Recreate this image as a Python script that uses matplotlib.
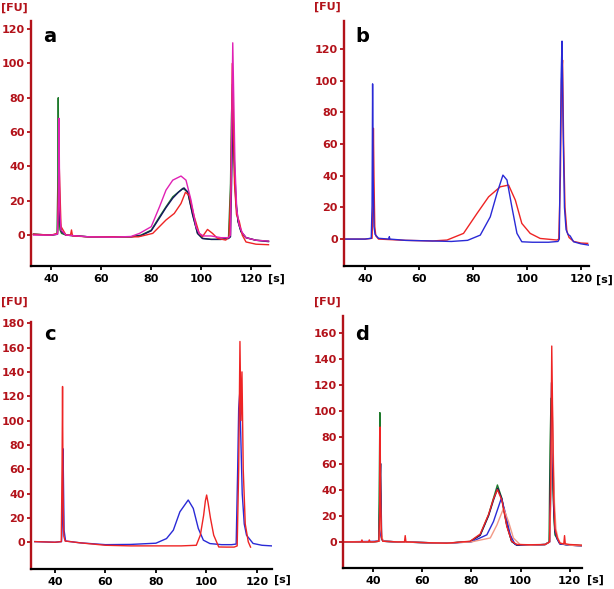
import matplotlib
matplotlib.use("Agg")
import matplotlib.pyplot as plt

# ---------------------------------------------------
# panel a: four runs (time in s, fluorescence in FU)
a_green_x = [33, 40, 42.4, 42.7, 42.9, 43.1, 43.3, 43.6, 44.2, 46, 55, 65, 72, 76, 80.1, 83.4, 86.0, 88.7, 92.7, 94.7,
             96.6, 98.6, 100.6, 104, 108, 111.0, 111.8, 112.2, 112.6, 113.0, 113.4, 114.0, 114.8, 116, 118, 122, 127]
a_green_y = [0.5, 0, 0.5, 28, 80, 30, 8, 3, 1, 0, -1, -1, -1, 0, 2.9, 10.7, 16.5, 22.3, 27.2, 25.2,
             12.6, 1, -1.9, -2.5, -2.5, -1.5, 30, 70, 88, 60, 35, 18, 8, 2, -1.5, -3, -3.5]
a_navy_x = [33, 40, 42.6, 43.0, 43.3, 43.6, 44.2, 46, 55, 65, 72, 76, 80.1, 83.4, 86.0, 88.7, 91.0, 93.2, 94.7, 96.6,
            98.6, 100.6, 104, 108, 111.0, 111.8, 112.3, 112.8, 113.3, 114.0, 114.8, 116, 118, 122, 127]
a_navy_y = [0.5, 0, 0.5, 10, 30, 8, 2, 0, -1, -1, -1, -0.3, 2.5, 10, 16, 21.5, 25, 27.5, 25, 12,
            1, -2, -2.5, -2.5, -2, -1, 35, 73, 45, 20, 8, 2, -1.5, -3, -3.8]
a_magenta_x = [33, 40, 42.6, 43.0, 43.2, 43.5, 44.0, 46, 55, 65, 72, 75.4, 80.1, 83.4, 86.0, 88.7, 92.0, 94.0, 96.0, 98.0,
               99.3, 101, 104, 108, 111.0, 111.8, 112.3, 112.7, 113.1, 113.6, 114.3, 115.2, 116.5, 118, 122, 127]
a_magenta_y = [0, 0, 0.5, 20, 68, 15, 3, 0, -1, -1.2, -0.8, 1, 4.9, 16.5, 26.2, 32, 34.4, 32, 20.4, 4.9,
               1, -0.5, -0.5, -1.5, -1.5, 0, 60, 112, 80, 40, 15, 6, 1.5, -1.5, -3, -3.5]
a_red_x = [33, 40, 42.6, 42.9, 43.2, 43.5, 44.0, 46, 47.8, 48.2, 48.6, 55, 65, 75, 80.7, 86.0, 89.3, 92.0, 93.8, 95.3,
           97.3, 99.3, 100.6, 102.6, 104.6, 106.6, 109.9, 111.2, 112.0, 112.5, 112.9, 113.4, 114.2, 115.3, 116.5,
           118, 122, 127]
a_red_y = [0.5, 0, 1, 20, 45, 30, 5, 0, 0, 3, -0.5, -1, -1, -1, 1, 8.8, 12.6, 18.4, 25, 23,
           10.7, 1, -0.9, 3.3, 1, -1.9, -2.9, -1, 30, 100, 70, 30, 12, 8, 0,
           -4, -5.3, -5.6]

# panel b: two runs
b_blue_x = [32.5, 40, 42.3, 42.6, 42.8, 43.0, 43.3, 43.7, 45, 48.8, 49.0, 49.2, 55, 65, 72, 78, 82.7, 86.4, 88.9, 91.1,
            92.6, 94.4, 96.3, 98.1, 102, 108, 111.5, 112.0, 112.4, 112.7, 113.0, 113.4, 113.9, 114.5, 115.2, 116.0,
            117.3, 120, 122.9]
b_blue_y = [0, 0, 0.5, 21, 98, 40, 8, 3, 0.5, 0, 1.5, 0, -0.8, -1.2, -1.5, -0.8, 2.5, 14, 28.9, 40.4,
            37.3, 20.4, 3.6, -1.7, -2, -2, -1.5, 0, 60, 104, 125, 70, 20, 6, 3, 2,
            -1.7, -3, -3.8]
b_red_x = [32.5, 40, 42.6, 42.9, 43.1, 43.3, 43.6, 44.0, 45, 55, 65, 70.4, 76.5, 81.5, 85.8, 90.1, 93.2, 95.7, 98.1,
           101.2, 104.9, 111.1, 111.8, 112.4, 112.8, 113.2, 113.6, 114.1, 114.8, 115.6, 117.3, 120, 122.5]
b_red_y = [0, 0, 0.5, 20, 70, 40, 8, 2, 0, -0.8, -1.2, -0.6, 3.6, 16.2, 26.7, 33, 34.1, 24.6, 9.9,
           3.6, 0.4, -0.6, 0, 40, 100, 113, 60, 20, 5, 1, -1.5, -2.5, -2.7]

# panel c: two runs
c_blue_x = [32, 40, 42.6, 42.9, 43.1, 43.3, 43.6, 44.2, 50, 60, 70, 80, 84.2, 86.9, 89.5, 92.8, 94.8, 96.8, 98.8,
            101.4, 106, 110, 111.8, 112.4, 112.8, 113.2, 113.6, 114.2, 115.0, 115.9, 118.5, 122, 125.8]
c_blue_y = [0.5, 0, 0.5, 15, 77, 60, 10, 1, -0.5, -2, -1.8, -0.8, 3, 9.9, 25, 34.7, 27.8, 11.3, 1.7,
            -1.1, -2, -2, -1.5, 60, 110, 122, 90, 40, 15, 5.8, -1, -2.5, -3]
c_red_x = [32, 40, 42.5, 42.8, 43.0, 43.2, 43.5, 44.0, 50, 60, 70, 80, 90, 96, 97.6, 98.9, 99.6, 100.1, 100.7,
           101.6, 102.9, 104.9, 108, 111, 112.2, 112.8, 113.3, 113.7, 114.1, 114.6, 115.4, 116.6, 117.5]
c_red_y = [0.5, 0, 0.5, 60, 128, 40, 5, 1, -0.5, -2.5, -3, -3, -3, -2.5, 5.8, 22, 34, 38.8, 32,
           20, 5.8, -3.9, -4, -4, -3, 60, 165, 100, 140, 60, 15, 0.3, -4]

# panel d: five runs
d_green_x = [28, 35, 40, 42.3, 42.6, 42.8, 43.0, 43.4, 44, 50, 60, 70, 79.5, 83.6, 87.0, 89.0, 90.6, 92.4, 94.4, 96.4,
             98.5, 104, 110, 111.6, 112.0, 112.4, 112.8, 113.2, 113.7, 114.0, 115, 116.0, 120, 124.9]
d_green_y = [0, 0, 0, 0.5, 55, 99, 20, 3, 0.5, 0, -0.5, -1, 0.3, 5.4, 20.7, 33.4, 43.6, 33.4, 13, 0.3,
             -2.5, -2.5, -2, 0, 72, 110, 85, 40, 15, 5.4, 2, -1.3, -2.5, -2.8]
d_navy_x = [28, 40, 42.5, 42.8, 43.1, 43.5, 44, 50, 60, 70, 79.5, 83.6, 87.0, 89.0, 90.7, 92.4, 94.4, 96.4, 98.5, 104,
            110, 111.8, 112.2, 112.6, 113.0, 113.5, 114.0, 115, 116.0, 120, 124.9]
d_navy_y = [0, 0, 0.5, 40, 60, 5, 0.5, 0, -0.5, -1, 0.2, 5, 20, 32, 41, 33, 13, 0.3, -2.5, -2.5,
            -2, 0, 60, 122, 70, 25, 8, 2, -1.5, -2.5, -3]
d_blue_x = [28, 42.6, 42.9, 43.2, 44, 50, 60, 70, 80, 86.3, 89.0, 92.2, 93.7, 95.8, 97.8, 104, 110, 111.9, 112.4,
            112.8, 113.2, 113.7, 114.2, 115, 116.0, 120, 124.9]
d_blue_y = [0, 0.5, 50, 5, 0.5, 0, -0.5, -1, 0, 5.4, 15.6, 33.4, 23.2, 5.4, -2, -2.5, -2, 0, 50,
            113, 60, 25, 8, 2, -1.5, -2.5, -3]
d_pink_x = [28, 40, 42.6, 42.9, 43.2, 44, 50, 60, 70, 80, 87.7, 90.4, 93.1, 95.1, 97.1, 99.8, 104, 110, 111.9, 112.5,
            112.9, 113.3, 113.8, 114.4, 115.2, 116.2, 120, 124.9]
d_pink_y = [0, 0, 0.5, 45, 10, 0.5, 0, -0.5, -1, 0, 3, 13, 25.8, 15.6, 3, -2, -2.5, -2, 0, 50,
            108, 70, 30, 10, 3, -1, -2.5, -3]
d_red_x = [28, 35.2, 35.5, 35.8, 38.2, 38.5, 38.8, 40, 42.4, 42.7, 42.9, 43.1, 43.5, 44, 50, 52.8, 53.1, 53.4, 60, 70,
           79.5, 83.6, 87.0, 89.0, 90.6, 92.4, 94.4, 96.4, 98.5, 104, 110, 111.8, 112.3, 112.7, 113.1, 113.5, 114.0,
           115, 116.0, 117.6, 117.9, 118.2, 120, 124.9]
d_red_y = [0, 0, 1.5, 0, 0, 1.5, 0, 0, 0.5, 20, 88, 30, 3, 0.5, 0, 0, 4.8, 0, -0.5, -1,
           0.5, 6, 21, 33, 40, 32, 12, 0.5, -2, -2.2, -2, 0, 50, 150, 90, 35, 10,
           3, -1, -1.5, 4.8, -1.5, -2, -2.5]

x_ticks = [40, 60, 80, 100, 120]
# ---------------------------------------------------

AX_RED = '#b3121a'
GREEN = '#1f7a2c'
NAVY = '#15155e'
BLUE = '#2a2ad6'
RED = '#ee2424'
MAGENTA = '#e021b4'
PINK = '#f29a86'

W, H = 614, 589
fig = plt.figure(figsize=(W / 100, H / 100), dpi=100)


def px_axes(left, top, right, bottom):
    return fig.add_axes([left / W, 1 - bottom / H, (right - left) / W, (bottom - top) / H])


def style(ax, xlim, ylim, yticks, letter, fu_xy, s_xy, letter_xy):
    ax.set_xlim(*xlim)
    ax.set_ylim(*ylim)
    ax.set_xticks(x_ticks)
    ax.set_yticks(yticks)
    for side in ('top', 'right'):
        ax.spines[side].set_visible(False)
    ax.spines['left'].set_color(AX_RED)
    ax.spines['left'].set_linewidth(1.7)
    ax.spines['bottom'].set_color('black')
    ax.spines['bottom'].set_linewidth(1.6)
    ax.tick_params(axis='y', colors=AX_RED, length=3, width=1.3, pad=1.5, labelsize=8)
    ax.tick_params(axis='x', colors='black', length=3, width=1.3, pad=2.5, labelsize=8)
    for lab in ax.get_xticklabels() + ax.get_yticklabels():
        lab.set_fontweight('bold')
    fig.text(fu_xy[0] / W, 1 - fu_xy[1] / H, '[FU]', color=AX_RED, fontsize=8,
             fontweight='bold', ha='center', va='center')
    fig.text(s_xy[0] / W, 1 - s_xy[1] / H, '[s]', color='black', fontsize=8,
             fontweight='bold', ha='center', va='center')
    fig.text(letter_xy[0] / W, 1 - letter_xy[1] / H, letter, color='black', fontsize=14,
             fontweight='bold', ha='center', va='center')


lw = 1.0

ax_a = px_axes(31, 21, 270, 266)
ax_a.plot(a_green_x, a_green_y, color=GREEN, lw=lw)
ax_a.plot(a_navy_x, a_navy_y, color=NAVY, lw=lw)
ax_a.plot(a_red_x, a_red_y, color=RED, lw=lw)
ax_a.plot(a_magenta_x, a_magenta_y, color=MAGENTA, lw=lw)
style(ax_a, (32, 127.6), (-18, 124.7), range(0, 121, 20), 'a', (14, 8), (276, 279), (50, 37))

ax_b = px_axes(344, 21, 589, 266)
ax_b.plot(b_red_x, b_red_y, color=RED, lw=lw)
ax_b.plot(b_blue_x, b_blue_y, color=BLUE, lw=lw)
style(ax_b, (32.2, 123), (-17, 137.7), range(0, 121, 20), 'b', (327, 7), (604, 280), (362, 37))

ax_c = px_axes(31, 322, 272, 569)
ax_c.plot(c_blue_x, c_blue_y, color=BLUE, lw=lw)
ax_c.plot(c_red_x, c_red_y, color=RED, lw=lw)
style(ax_c, (30.5, 126), (-22, 181), range(0, 181, 20), 'c', (14, 302), (282, 580), (50, 335))

ax_d = px_axes(343, 316, 582, 568)
ax_d.plot(d_green_x, d_green_y, color=GREEN, lw=lw)
ax_d.plot(d_navy_x, d_navy_y, color=NAVY, lw=lw)
ax_d.plot(d_blue_x, d_blue_y, color=BLUE, lw=lw)
ax_d.plot(d_pink_x, d_pink_y, color=PINK, lw=lw)
ax_d.plot(d_red_x, d_red_y, color=RED, lw=lw)
style(ax_d, (27.8, 125), (-20, 173), range(0, 161, 20), 'd', (327, 302), (595, 580), (362, 334))

fig.savefig('out.png', dpi=100)
